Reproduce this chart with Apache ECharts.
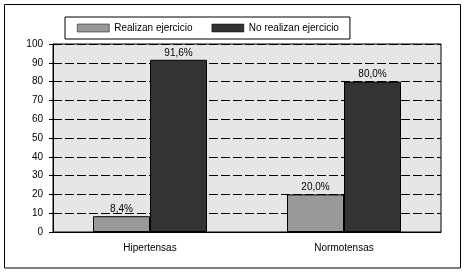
<!DOCTYPE html>
<html lang="es">
<head>
<meta charset="utf-8">
<title>Ejercicio</title>
<script src="https://cdn.jsdelivr.net/npm/echarts@6/dist/echarts.min.js"></script>
<style>
  html, body { margin: 0; padding: 0; background: #fff; }
  #chart { width: 464px; height: 273px; }
</style>
</head>
<body>
<div id="chart"></div>
<script>
// datos
var categorias = ['Hipertensas', 'Normotensas'];
var realizan = [8.4, 20.0];
var noRealizan = [91.6, 80.0];
var nombres = ['Realizan ejercicio', 'No realizan ejercicio'];

var fuente = 'Liberation Sans, Arial, sans-serif';

function etiqueta(p) {
    return p.value.toFixed(1).replace('.', ',') + '%';
}

var chart = echarts.init(document.getElementById('chart'));
chart.setOption({
    animation: false,
    textStyle: { fontFamily: fuente, color: '#000' },
    // marco exterior
    graphic: [{
        type: 'rect',
        shape: { x: 4.5, y: 4.5, width: 456, height: 263.5 },
        style: { fill: 'none', stroke: '#000', lineWidth: 1 },
        silent: true
    }],
    legend: {
        data: nombres,
        icon: 'rect',
        left: 65,
        top: 17,
        padding: [6, 11, 6, 12],
        itemWidth: 32,
        itemHeight: 8,
        itemGap: 19,
        itemStyle: { borderColor: '#000', borderWidth: 0.5 },
        borderColor: '#000',
        borderWidth: 1,
        textStyle: { fontSize: 10, color: '#000', fontFamily: fuente }
    },
    grid: {
        left: 53,
        right: 23,
        top: 44,
        bottom: 41,
        show: true,
        backgroundColor: '#e6e6e6',
        borderColor: '#000',
        borderWidth: 1
    },
    xAxis: {
        type: 'category',
        data: categorias,
        axisLine: { lineStyle: { color: '#000' } },
        axisTick: { show: false },
        axisLabel: { fontSize: 10, color: '#000', margin: 11, fontFamily: fuente }
    },
    yAxis: {
        type: 'value',
        min: 0,
        max: 100,
        interval: 10,
        axisLine: { show: true, lineStyle: { color: '#000' } },
        axisTick: { show: true, length: 4, lineStyle: { color: '#000' } },
        axisLabel: { fontSize: 10, color: '#000', margin: 10, fontFamily: fuente },
        splitLine: { show: true, lineStyle: { color: '#000', type: [9, 3], width: 1 } }
    },
    series: [{
        name: nombres[0],
        type: 'bar',
        data: realizan,
        barWidth: 57,
        barGap: '0%',
        itemStyle: { color: '#999999', borderColor: '#000', borderWidth: 1 },
        label: { show: true, position: 'top', distance: 2, fontSize: 10, color: '#000', formatter: etiqueta }
    }, {
        name: nombres[1],
        type: 'bar',
        data: noRealizan,
        barWidth: 57,
        barGap: '0%',
        itemStyle: { color: '#333333', borderColor: '#000', borderWidth: 1 },
        label: { show: true, position: 'top', distance: 2, fontSize: 10, color: '#000', formatter: etiqueta }
    }]
});
</script>
</body>
</html>
